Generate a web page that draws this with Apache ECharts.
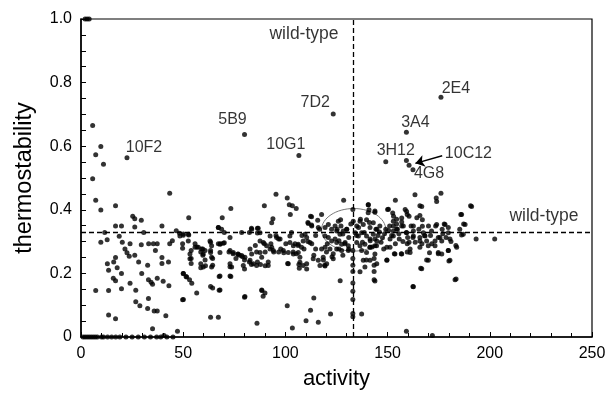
<!DOCTYPE html>
<html><head><meta charset="utf-8">
<script src="https://cdn.jsdelivr.net/npm/echarts@6/dist/echarts.min.js"></script>
<style>html,body{margin:0;padding:0;background:#fff}#c{width:612px;height:395px}</style>
</head><body><div id="c"></div>
<script>
// ---- data (activity, thermostability) ----
const floorPoints = [[1,0],[2,0],[3,0],[4,0],[5,0],[6,0],[7,0],[8,0],[10,0],[11,0],[13,0],[15,0],[17,0],[19,0],[22,0],[25,0],[28,0],[31,0],[34,0],[37,0],[39,0],[42,0],[45,0],[2,1],[3,1],[4,1]];
const lowActivity = [[5.7,0.665],[7.2,0.573],[9.7,0.599],[11.0,0.543],[5.7,0.498],[7.2,0.430],[9.7,0.399],[16.9,0.413],
[7.2,0.146],[13.5,0.146],[13.5,0.069],[16.9,0.057],[9.7,0.298],[11.6,0.329],[12.8,0.306],[16.9,0.349],[19.8,0.349],
[18.7,0.317],[20.2,0.298],[16.9,0.250],[16.0,0.236],[12.9,0.230],[13.5,0.210],[15.8,0.185],[16.9,0.177],[17.7,0.218],
[19.8,0.200],[19.8,0.152],[21.5,0.277],[22.5,0.265],[23.6,0.254],[24.0,0.169],[25.3,0.380],[26.3,0.372],[26.3,0.346],
[24.0,0.293],[26.3,0.257],[26.8,0.147],[26.8,0.111],[29.5,0.367],[30.7,0.329],[29.5,0.290],[28.2,0.236],[29.7,0.200],
[28.8,0.098],[33.0,0.121],[33.1,0.293],[32.6,0.226],[33.0,0.180],[34.3,0.172],[35.4,0.293],[36.4,0.272],[37.3,0.293],
[37.3,0.185],[35.0,0.166],[35.8,0.082],[37.3,0.082],[35.0,0.026],[32.6,0.090],[39.6,0.349],[39.6,0.250],[39.6,0.231],
[40.2,0.175],[41.5,0.067],[40.6,0.005],[43.4,0.452],[43.4,0.293],[42.8,0.236],[43.0,0.161],[46.6,0.334],[47.2,0.018],
[44.7,0.303],[48.2,0.326],[49.7,0.293],[50.1,0.324],[50.1,0.200],[51.4,0.190],[53.1,0.180],[50.1,0.118],[52.7,0.375],
[52.7,0.321],[49.7,0.117],[48.4,0.318],[49.7,0.279],[50.0,0.200],[51.7,0.189],[54.2,0.169]];
const midActivity = [[53.9,0.272],[53.9,0.247],[53.9,0.231],[55.8,0.293],[56.7,0.283],[58.6,0.267],[59.6,0.277],[59.6,0.257],
[58.6,0.218],[60.7,0.242],[60.9,0.224],[63.4,0.298],[63.4,0.272],[64.4,0.247],[63.4,0.159],[64.4,0.154],[63.4,0.062],
[67.2,0.062],[64.4,0.226],[67.2,0.293],[67.2,0.344],[68.2,0.293],[69.1,0.375],[67.6,0.190],[67.6,0.147],[70.1,0.296],
[70.1,0.329],[73.3,0.404],[72.4,0.267],[72.9,0.221],[73.3,0.190],[74.4,0.262],[76.7,0.260],[77.5,0.257],[75.8,0.247],
[79.0,0.252],[80.0,0.242],[80.0,0.214],[80.0,0.125],[78.6,0.329],[82.4,0.329],[83.4,0.342],[86.3,0.342],[86.3,0.327],
[82.4,0.236],[83.4,0.228],[85.3,0.288],[85.9,0.267],[86.3,0.236],[87.8,0.228],[86.1,0.043],[88.5,0.146],[89.1,0.128],
[89.7,0.413],[89.7,0.293],[90.1,0.267],[90.1,0.224],[91.6,0.236],[92.9,0.293],[93.9,0.372],[94.3,0.267],[95.4,0.449],
[95.4,0.319],[96.7,0.308],[96.7,0.267],[97.7,0.277],[99.2,0.265],[93.3,0.359],[95.7,0.313],[97.4,0.308],
[52.5,0.302],[55.8,0.282],[57.4,0.282],[59.0,0.277],[60.7,0.272],[59.8,0.261],[63.1,0.302],[63.9,0.287],[63.4,0.266],
[63.9,0.251],[63.9,0.220],[68.0,0.292],[69.6,0.295],[68.0,0.266],[72.9,0.313],[72.9,0.272],[74.5,0.266],[76.9,0.261],
[78.6,0.256],[80.2,0.251],[79.4,0.225],[72.9,0.230],[73.7,0.220],[72.9,0.192],[82.7,0.277],[83.5,0.261],[82.7,0.241],
[84.3,0.230],[85.9,0.225],[87.6,0.266],[88.4,0.251],[90.8,0.287],[92.5,0.277],[93.3,0.282],[94.1,0.272],[91.6,0.225],
[87.6,0.328],[87.6,0.302],[89.2,0.297],[92.5,0.318],[58.6,0.230],[59.8,0.220],[53.3,0.246],[53.3,0.261],[68.0,0.148],
[68.0,0.192],[56.6,0.138],[80.2,0.127],[88.4,0.148],[90.0,0.138],[67.2,0.344],[68.8,0.339],[83.5,0.339],[86.7,0.342],
[50.0,0.320],[52.5,0.323]];
const nearWildType = [[100.9,0.437],[101.9,0.416],[100.2,0.293],[101.1,0.231],[100.9,0.098],[102.4,0.385],[103.4,0.413],
[103.0,0.329],[103.8,0.267],[103.4,0.028],[105.3,0.404],[104.7,0.293],[105.3,0.262],[106.2,0.288],[106.6,0.228],
[106.8,0.216],[108.1,0.319],[109.1,0.277],[110.1,0.051],[110.4,0.214],[111.0,0.360],[111.0,0.300],[112.3,0.380],
[112.3,0.084],[112.9,0.349],[112.9,0.293],[113.9,0.257],[113.9,0.123],[114.8,0.277],[114.8,0.319],[116.1,0.046],
[116.7,0.339],[117.7,0.385],[117.7,0.277],[118.6,0.242],[119.2,0.226],[120.1,0.267],[120.5,0.293],[122.1,0.072],
[122.8,0.252],[123.4,0.262],[126.8,0.177],[128.5,0.430],[126.2,0.277],[112.8,0.378],[115.8,0.367],[111.2,0.357],
[112.8,0.352],[116.1,0.344],[102.2,0.318],[109.6,0.323],[110.4,0.313],[112.0,0.297],[102.2,0.297],[103.9,0.287],
[106.3,0.292],[107.9,0.282],[108.7,0.302],[99.0,0.272],[101.4,0.266],[103.9,0.261],[106.3,0.266],[107.1,0.251],
[107.1,0.235],[110.4,0.230],[113.6,0.246],[116.1,0.241],[118.5,0.251],[120.2,0.230],[123.4,0.246],[101.4,0.230],
[108.7,0.225],[116.9,0.225],[119.4,0.223],
[119.4,0.344],[121.0,0.354],[122.6,0.339],[124.3,0.349],[125.9,0.364],[127.0,0.369],[125.1,0.333],[126.7,0.323],
[128.3,0.333],[130.0,0.339],[119.4,0.318],[121.0,0.313],[122.6,0.302],[124.3,0.308],[125.1,0.297],[127.5,0.292],
[129.2,0.297],[130.8,0.287],[119.4,0.282],[121.8,0.277],[125.1,0.277],[127.5,0.272],[130.8,0.272],[133.2,0.364],
[134.9,0.349],[136.5,0.364],[138.1,0.354],[139.7,0.369],[141.4,0.344],[143.0,0.359],[144.7,0.339],[134.1,0.328],
[135.7,0.318],[137.3,0.328],[139.7,0.318],[141.4,0.308],[143.0,0.323],[144.7,0.302],[134.9,0.297],[136.5,0.287],
[138.9,0.292],[141.4,0.282],[143.8,0.287],[137.3,0.272],[139.7,0.266],[138.1,0.241],[138.9,0.220],[136.5,0.205],
[141.4,0.241],[144.7,0.230],
[125.3,0.339],[127.2,0.349],[128.1,0.324],[126.2,0.303],[129.1,0.293],[130.0,0.339],[131.0,0.313],[132.0,0.355],
[131.0,0.277],[128.1,0.257],[133,0.401],[133,0.272],[133,0.247],[133,0.226],[133,0.206],[133,0.170],[133,0.144],
[133,0.118],[133,0.074],[133,0.064],[137.3,0.072],[134.8,0.319],[135.8,0.344],[136.7,0.370],[137.7,0.298],
[138.6,0.329],[139.6,0.242],[140.5,0.391],[140.5,0.416],[141.1,0.360],[141.5,0.303],[142.4,0.283],[143.4,0.247],
[143.4,0.226],[143.4,0.206],[143.4,0.180],[143.8,0.396],[144.3,0.339],[145.3,0.319],[146.2,0.349],[146.8,0.298],
[148.1,0.277],[140.6,0.416],[140.9,0.400],[143.8,0.392],[143.8,0.308],[144.6,0.287],[141.4,0.282],[143.8,0.261],
[143.8,0.176],[149.6,0.241]];
const highActivity = [[149.1,0.339],[149.7,0.242],[150.0,0.401],[151.0,0.349],[152.0,0.319],[152.9,0.380],[153.3,0.262],
[153.8,0.293],[154.8,0.339],[153.8,0.430],[155.7,0.308],[156.7,0.262],[157.7,0.349],[158.6,0.401],[159.2,0.329],
[159.6,0.293],[159.6,0.267],[159.2,0.018],[160.5,0.380],[161.5,0.349],[162.4,0.313],[162.4,0.159],[163.4,0.447],
[164.3,0.375],[165.3,0.339],[165.8,0.413],[166.2,0.216],[166.8,0.293],[168.1,0.319],[169.1,0.242],[170.0,0.349],
[171.0,0.319],[171.6,0.293],[171.9,0.005],[173.8,0.437],[173.5,0.349],[174.8,0.313],[174.8,0.262],[176.1,0.452],
[176.7,0.339],[177.7,0.355],[178.6,0.313],[179.7,0.272],[180.0,0.239],[183.0,0.180],[183.4,0.288],[185.3,0.339],
[185.8,0.385],[187.2,0.355],[186.2,0.321],[190.6,0.413],[193.3,0.308],[202.4,0.308],
[166.7,0.410],[174.0,0.426],[150.4,0.402],[152.5,0.390],[159.3,0.395],[159.6,0.385],[165.8,0.382],[167.0,0.369],
[186.2,0.385],[191.1,0.410],[156.9,0.374],[156.9,0.362],[156.9,0.349],[154.4,0.370],[154.4,0.355],[154.4,0.340],
[152.8,0.364],[152.8,0.349],[152.8,0.333],[152.8,0.318],[162.6,0.349],[162.6,0.333],[162.6,0.318],[174.0,0.354],
[178.1,0.354],[179.7,0.344],[187.9,0.354],[187.0,0.323],[180.5,0.308],[175.6,0.313],[176.5,0.302],[167.5,0.328],
[168.3,0.318],[169.1,0.302],[169.9,0.287],[165.8,0.313],[165.8,0.302],[165.8,0.282],[159.3,0.328],[159.8,0.313],
[160.5,0.298],[161.0,0.277],[151.2,0.308],[149.6,0.282],[151.2,0.282],[153.6,0.261],[156.9,0.261],[161.0,0.266],
[162.6,0.158],[166.7,0.215],[169.9,0.241],[174.8,0.266],[176.5,0.261],[180.5,0.241],[179.7,0.272],[183.8,0.282],
[183.5,0.182],[173.2,0.302],[173.2,0.287],[179.7,0.328],[148.5,0.325],[150.5,0.335],[147.5,0.312],[155.5,0.325],
[157.5,0.300],[163.5,0.298],[167.0,0.348],[171.5,0.333],[177.0,0.325],[181.0,0.300],[170.5,0.265],[146.0,0.330]];
const namedMutants = ['10F2','5B9','10G1','7D2','2E4','3A4','3H12','10C12','4G8',''];
const namedActivity = [22.5,80.0,106.6,123.4,176.1,159.2,149.1,159.2,160.5,162.4];
const namedThermo = [0.564,0.637,0.571,0.701,0.754,0.644,0.551,0.555,0.540,0.526];
const wildTypeActivity = 133;
const wildTypeThermo = 0.332;
const wildTypeCluster = [[133.4,0.337,15.7,0.067]]; // centre x, centre y, half-width, half-height
const xTicks = [0,50,100,150,200,250];
const yTicks = [0,0.2,0.4,0.6,0.8,1.0];

// ---- presentation ----
const FONT = "'Liberation Sans', Arial, Helvetica, sans-serif";
const labelOffsets = {'10F2':[17,-10],'5B9':[-12,-15],'10G1':[-13,-11],'7D2':[-18,-11],'2E4':[15,-9],
  '3A4':[9,-10],'3H12':[10,-11],'10C12':[62,-7],'4G8':[20,8]};
const chart = echarts.init(document.getElementById('c'), null, {renderer:'canvas'});
const dot = {symbol:'circle', symbolSize:5, itemStyle:{color:'#000'}};
const allPts = floorPoints.concat(lowActivity, midActivity, nearWildType, highActivity);
const named = namedMutants.map((n,i)=>({name:n, value:[namedActivity[i], namedThermo[i]],
  label:{show:!!n, position:'inside', offset:labelOffsets[n]||[0,0], formatter:n, color:'#000',
    fontFamily:FONT, fontSize:16}}));

chart.setOption({
  animation:false,
  grid:{left:81, right:20, top:19, bottom:52, show:true, borderColor:'#000', borderWidth:1.2, backgroundColor:'transparent'},
  xAxis:{type:'value', min:xTicks[0], max:xTicks[xTicks.length-1], interval:50,
    name:'activity', nameLocation:'middle', nameGap:31,
    nameTextStyle:{fontFamily:FONT, fontSize:22, color:'#000'},
    axisLine:{lineStyle:{color:'#000', width:1.5}},
    axisTick:{inside:true, length:5, lineStyle:{color:'#000'}},
    minorTick:{show:true, splitNumber:5, length:4, lineStyle:{color:'#000'}},
    splitLine:{show:false},
    axisLabel:{fontFamily:FONT, fontSize:16, color:'#000', margin:9}},
  yAxis:{type:'value', min:yTicks[0], max:yTicks[yTicks.length-1], interval:0.2,
    name:'thermostability', nameLocation:'middle', nameGap:44, nameRotate:90,
    nameTextStyle:{fontFamily:FONT, fontSize:23.5, color:'#000'},
    axisLine:{lineStyle:{color:'#000', width:1.5}},
    axisTick:{inside:true, length:5, lineStyle:{color:'#000'}},
    minorTick:{show:true, splitNumber:4, length:5, lineStyle:{color:'#000'}},
    splitLine:{show:false},
    axisLabel:{fontFamily:FONT, fontSize:16, color:'#000', margin:9,
      formatter:v=> v===0 ? '0' : v.toFixed(1)}},
  series:[
    {type:'custom', data:wildTypeCluster, silent:true, z:1,
      renderItem:(params, api)=>{
        const c = api.coord([api.value(0), api.value(1)]);
        const r = api.coord([api.value(0)+api.value(2), api.value(1)+api.value(3)]);
        return {type:'ellipse', shape:{cx:c[0], cy:c[1], rx:Math.abs(r[0]-c[0]), ry:Math.abs(c[1]-r[1])},
          style:{fill:'none', stroke:'#777', lineWidth:1}};
      }},
    Object.assign({type:'scatter', data:allPts, z:3,
      markLine:{silent:true, symbol:'none', label:{show:false},
        lineStyle:{color:'#000', type:[5,3], width:1.3},
        data:[{xAxis:wildTypeActivity},{yAxis:wildTypeThermo}]}}, dot),
    Object.assign({type:'scatter', data:named, z:4,
      markLine:{silent:true, symbol:['none','arrow'], symbolSize:9, label:{show:false},
        lineStyle:{color:'#000', type:'solid', width:1.5},
        data:[[{coord:[176.7,0.570]},{coord:[163.6,0.546]}]]}}, dot),
    {type:'scatter', symbolSize:0, silent:true, z:4,
      data:[{value:[109.1,0.951]},{value:[226.5,0.380]}],
      label:{show:true, position:'inside', formatter:'wild-type', color:'#000', fontFamily:FONT, fontSize:17.5}}
  ]
});
</script></body></html>
